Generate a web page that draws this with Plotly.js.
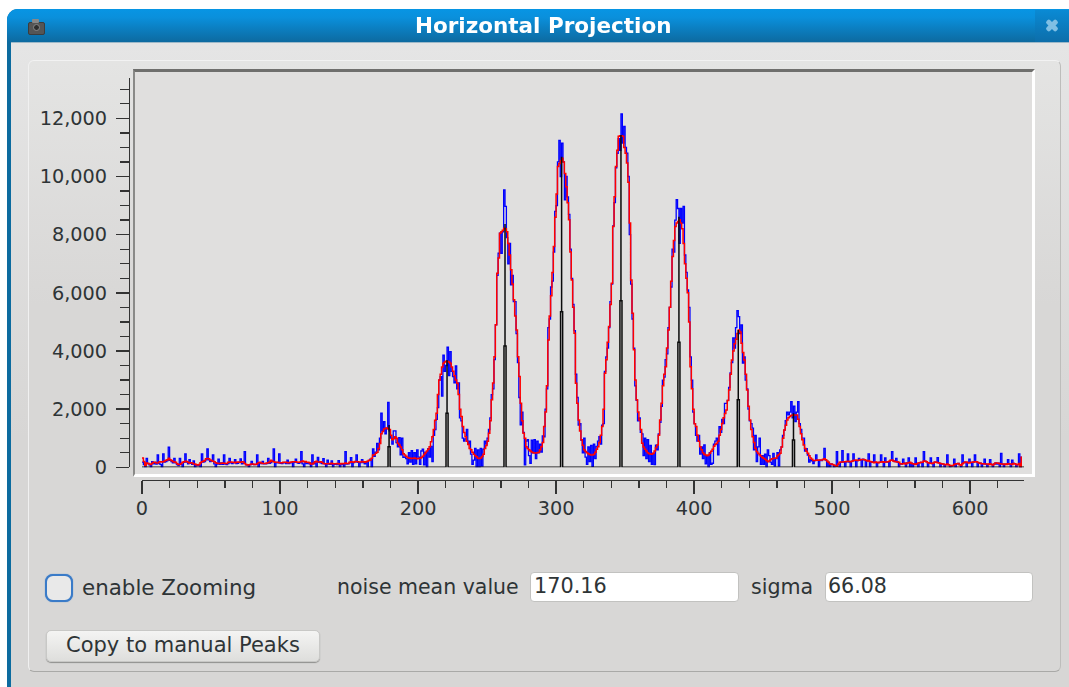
<!DOCTYPE html>
<html><head><meta charset="utf-8">
<script src="https://cdn.plot.ly/plotly-3.0.1.min.js"></script>
<style>
html,body{margin:0;padding:0;width:1069px;height:687px;overflow:hidden;background:#fff}
#root{position:absolute;left:0;top:0;width:1069px;height:687px;overflow:hidden;filter:blur(0.35px)}
.a{position:absolute;box-sizing:border-box}
#win{left:7px;top:9px;width:1080px;height:700px;background:#0c6b9f;border-radius:11px 11px 0 0}
#bar{left:7px;top:9px;width:1080px;height:33px;border-radius:11px 11px 0 0;background:linear-gradient(#0795e4,#0a90dc 25%,#0d6aa0)}
#body{left:11px;top:42px;width:1070px;height:660px;background:linear-gradient(#e5e5e5,#d7d6d5 60%);border-top:1px solid #9db9c9}
#panel{left:28px;top:60px;width:1033px;height:612px;border-radius:6px;background:linear-gradient(#e4e4e3,#d8d7d6 40%);border:1px solid #c4c4c2;border-top-color:#f2f2f2;border-left-color:#f0f0f0;border-right-color:#bdbdbb;border-bottom-color:#a9a9a7}
#canvas{left:133px;top:69px;width:902px;height:408px;background:#e0dfde;border-style:solid;border-width:3px 3px 3px 2px;border-color:#6f6f6d #fff #fff #8a8a88}
.inp{background:#fff;border:1px solid #c2c2c0;border-radius:4px;top:572px;height:30px}
#i1{left:530px;width:209px}#i2{left:825px;width:208px}
#cb{left:45px;top:574px;width:28px;height:28px;border-radius:8px;border:2px solid #3a7bc8;background:#e9e9e9;box-shadow:0 0 1px #3a7bc8}
#btn{left:46px;top:630px;width:274px;height:32px;border-radius:5px;background:linear-gradient(#f4f4f3,#dededc);border:1px solid #c8c8c6;box-shadow:0 1px 1px #8f8f8d}
#cam{left:28px;top:22px;width:17px;height:13px;background:#555;border-radius:2px;border:1px solid #3c3c3c}
#cam2{left:32px;top:19px;width:7px;height:4px;background:#888;border-radius:1px}
#cam3{left:33px;top:24px;width:7px;height:7px;background:#2e2e2e;border-radius:50%;border:1px solid #888}
#cls{left:1035px;top:10px;width:40px;height:32px;background:linear-gradient(#0a8ad4,#0d6eaa)}
.x1{left:1045px;top:23px;width:14px;height:5px;background:#7fbfe4;border-radius:2px}
#x1{transform:rotate(45deg)}#x2{transform:rotate(-45deg)}
#plot{position:absolute;left:0;top:0;width:1069px;height:687px}
</style></head><body><div id="root">
<div class="a" id="win"></div><div class="a" id="bar"></div><div class="a" id="body"></div>
<div class="a" id="panel"></div><div class="a" id="canvas"></div>
<div class="a inp" id="i1"></div><div class="a inp" id="i2"></div><div class="a" id="cb"></div><div class="a" id="btn"></div>
<div class="a" id="cam"></div><div class="a" id="cam2"></div><div class="a" id="cam3"></div>
<div class="a" id="cls"></div><div class="a x1" id="x1"></div><div class="a x1" id="x2"></div>
<div id="plot"></div></div>
<script>
const rawProjection = [
180,90,-80,310,130,80,-115,190,120,170,110,425,130,100,-110,460,180,200,230,690,
240,200,150,310,150,90,60,310,100,-60,170,460,180,120,260,140,100,220,-40,90,
60,80,-60,460,180,200,260,630,260,200,210,425,120,-40,110,280,100,150,100,425,
110,90,130,310,150,130,160,260,130,140,170,290,120,140,540,80,90,-70,90,200,
100,90,100,425,-50,140,130,200,120,120,130,310,140,160,210,630,-40,170,150,460,
140,130,150,170,130,250,130,150,170,-30,170,280,160,140,150,540,120,-40,170,130,
150,120,-60,425,120,150,-90,340,170,150,130,300,120,-50,250,110,100,220,-60,100,
110,90,230,-40,110,90,-70,540,110,120,150,330,-20,160,190,425,170,-30,160,260,
160,120,190,-20,230,280,-20,630,380,520,825,600,1000,1860,1250,1570,1150,1350,2230,1250,
1000,800,1250,1250,850,700,1020,430,1000,340,360,300,120,500,180,570,100,500,120,600,
350,100,560,620,80,520,-110,640,350,720,200,1100,1300,1650,2050,3000,3120,2450,3860,3300,
3500,4130,3150,3980,3300,3120,2900,3490,2700,2900,1700,1600,1000,900,980,1300,800,900,450,100,
250,650,-30,600,-20,650,40,620,900,800,1000,1300,1700,2500,2700,3700,4900,6600,7360,8050,
7360,8100,9540,8970,7900,7000,7700,6270,6600,5700,5700,4600,3600,2400,1460,1900,1200,80,900,950,
400,140,930,500,950,300,900,500,800,520,1080,1050,2000,2700,4800,5100,6200,6400,7400,8800,
9000,10500,11240,10000,11150,10500,9200,10000,9300,8700,7500,6500,5600,4700,3200,2400,1450,1500,930,500,
1000,350,100,700,200,750,30,800,300,720,900,1050,800,1450,1500,3300,3800,4100,4800,5700,
6300,8300,9100,10300,10800,11300,10900,12150,11150,11720,11000,10800,10000,8000,6300,5100,4100,2800,2300,1600,
1700,1200,1150,400,1000,300,950,200,750,100,480,90,760,600,1150,1550,2100,3000,3100,3700,
3900,4800,5500,6200,7500,7400,8500,9200,8900,7700,8900,8400,8970,7300,6700,6100,5500,3800,3000,1900,
1500,1100,900,1100,450,700,300,770,120,400,-30,500,100,140,800,900,1000,430,1400,1200,
1650,1500,2200,2200,2300,2750,3250,3600,4450,4100,4800,5390,5180,4600,4900,3580,3800,3000,2700,2000,
1600,1500,1350,600,1100,200,700,1000,100,400,100,450,-10,600,400,180,100,480,40,300,
500,40,600,700,1100,1280,1600,1900,1800,1900,2260,1700,2100,1570,1900,2260,1500,1300,1000,1000,
560,640,420,180,260,220,130,230,430,240,-90,250,230,270,650,250,-60,170,-40,120,
90,-90,50,540,100,-50,170,570,180,-100,190,460,180,-100,210,460,230,-60,230,310,
250,-60,280,260,-40,220,460,-40,190,170,425,170,-30,160,170,425,190,-30,320,180,
190,-40,240,540,220,200,310,180,-50,120,110,280,140,-70,150,320,-60,140,-40,110,
320,120,-60,160,170,-40,540,210,190,-40,150,320,130,-50,180,170,330,150,-60,120,
110,-60,90,425,90,-40,50,60,280,-60,120,130,90,-30,425,160,180,-40,160,280,
170,-30,180,425,190,-30,150,140,-40,120,280,110,-50,100,260,100,-60,110,150,110,
140,-60,480,110,-60,110,100,260,110,-40,250,130,120,-60,90,460,-90,370];

const smoothedProjection = [
320,200,60,150,130,110,100,140,170,170,150,150,180,190,180,190,220,240,260,310,
260,230,200,180,170,120,100,100,130,170,190,210,200,170,150,160,150,110,110,90,
80,100,160,190,210,230,290,300,290,250,230,210,190,160,140,130,130,140,150,140,
130,130,170,180,180,170,170,160,170,180,170,170,190,180,130,100,80,90,100,110,
110,100,100,120,160,170,150,130,130,130,150,160,180,240,210,190,170,170,170,160,
160,160,170,170,170,160,160,170,180,190,190,190,170,170,180,200,220,190,200,170,
170,160,110,110,150,190,210,180,180,190,170,130,120,120,120,130,120,140,120,120,
120,130,120,110,130,120,130,150,130,130,170,190,180,170,200,200,190,180,180,200,
190,170,190,210,240,250,310,420,430,480,520,650,820,1150,1230,1320,1340,1350,1320,1300,
1100,950,980,1050,1000,830,770,700,600,470,420,380,340,320,310,300,310,320,300,290,
300,310,340,380,440,500,560,620,710,880,1050,1300,1620,1860,2500,3000,3200,3450,3580,3620,
3650,3640,3620,3580,3450,3300,3150,3000,2890,2500,2000,1750,1400,1200,1050,900,780,650,600,520,
450,400,360,310,300,320,370,450,650,750,900,1170,1600,2320,2900,3800,4900,6670,7200,8050,
8100,8150,8220,8200,8100,7700,7300,6790,6300,5760,5200,4720,3800,3120,2200,1600,1170,1000,710,650,
600,560,530,500,490,490,500,520,600,710,850,1400,1900,2800,4380,5200,5900,6700,7590,8600,
9400,10340,10450,10550,10630,10500,10100,9650,9100,8510,7400,6440,5500,4610,2890,2200,1630,1250,950,760,
600,540,500,470,440,420,420,450,520,620,710,850,1100,1400,2000,3230,3700,4300,4840,5600,
6330,8280,9300,10340,10900,11380,11400,11400,11380,11000,10800,10460,9800,8400,6440,5300,4040,3000,2320,1900,
1630,1300,830,700,620,560,500,470,460,450,480,560,680,770,1100,1630,2200,2800,3200,3460,
4100,4720,5500,6400,7250,7800,8280,8400,8450,8510,8400,8200,7700,7000,6500,6000,5000,3460,2700,2000,
1500,1400,1100,900,710,600,500,450,420,400,420,480,550,620,720,780,830,900,1100,1300,
1510,1700,1850,1970,2300,2660,3200,3690,4000,4250,4400,4600,4720,4650,4270,3950,3690,3200,2660,2100,
1630,1300,1050,850,650,540,480,430,380,340,310,280,230,195,220,260,290,300,310,320,
400,440,480,700,1000,1280,1450,1630,1700,1750,1780,1800,1800,1800,1800,1650,1400,1150,950,770,
650,550,480,400,320,280,230,230,240,250,240,250,250,270,290,260,220,170,115,110,
100,80,50,40,110,170,180,180,190,190,200,210,200,190,210,230,240,250,230,240,
260,270,270,260,240,220,230,200,190,170,160,180,170,160,170,180,190,170,180,180,
190,210,240,250,220,200,190,180,170,120,110,120,140,110,150,160,170,140,120,110,
100,120,150,160,170,170,220,210,190,160,150,140,130,150,180,170,160,150,130,120,
110,100,90,110,90,60,50,60,100,110,120,130,90,70,120,160,180,180,160,150,
170,170,180,190,190,170,150,140,120,120,110,110,110,100,120,100,80,110,150,150,
140,120,110,110,100,110,100,120,110,110,100,130,120,100,90,130,-90,370];

const peakX = [179,221,263,304,347,389,432,472];
const peakTop = [1455,3690,8370,10680,11430,8620,4720,1860];
const peakShoulder = [710,1857,4170,5350,5730,4300,2320,940];
const xTickValues = [0,100,200,300,400,500,600];
const noiseMean = "170.16";
const noiseSigma = "66.08";

const W = 1069, H = 687;
const px = v => v / W, py = v => 1 - v / H;
const idx = rawProjection.map((_, i) => i);
const hw = 0.75;
const bx = [0], by = [0];
peakX.forEach((p, i) => {
  const s = peakShoulder[i], t = peakTop[i];
  bx.push(p-hw,p-hw,p,p,p,p+hw,p+hw);
  by.push(0,s,s,t,s,s,0);
});
bx.push(639); by.push(0);

const traces = [
 {x: idx, y: rawProjection, mode:'lines', line:{color:'#0000ff',width:1.3,shape:'hv'}, cliponaxis:false, name:'projection'},
 {x: idx, y: smoothedProjection, mode:'lines', line:{color:'#ff0000',width:1.5,shape:'hv'}, cliponaxis:false, name:'smoothed'},
 {x: bx, y: by, mode:'lines', line:{color:'#0a0a0a',width:1.5}, cliponaxis:false, name:'peaks'}
];
const tc = '#333333';
const txt = (t,x,y,size,anchor,extra) => Object.assign({text:t,xref:'paper',yref:'paper',x:px(x),y:py(y),xanchor:anchor,yanchor:'middle',showarrow:false,
  font:{family:'DejaVu Sans',size:size,color:'#2e3436'}},extra||{});
const layout = {
 width:W,height:H,margin:{l:0,r:0,t:0,b:0,pad:0},paper_bgcolor:'rgba(0,0,0,0)',plot_bgcolor:'rgba(0,0,0,0)',
 showlegend:false,hovermode:false,dragmode:false,
 xaxis:{domain:[px(142),px(1024)],range:[0,639],anchor:'free',position:py(480),side:'bottom',
   showgrid:false,zeroline:false,showline:true,linecolor:tc,linewidth:1.4,
   tickmode:'array',tickvals:xTickValues,ticks:'outside',ticklen:13,tickwidth:1.4,tickcolor:tc,ticklabelstandoff:-3,
   minor:{dtick:20,ticks:'outside',ticklen:7,tickwidth:1.4,tickcolor:tc,showgrid:false},
   tickfont:{family:'DejaVu Sans',size:19.3,color:'#2e3436'},automargin:false},
 yaxis:{domain:[py(467.3),py(78)],range:[0,13387],anchor:'free',position:px(128.5),side:'left',
   showgrid:false,zeroline:false,showline:true,linecolor:tc,linewidth:1.4,
   dtick:2000,tick0:0,tickformat:',d',ticks:'outside',ticklen:12.5,tickwidth:1.4,tickcolor:tc,ticklabelstandoff:5,
   minor:{dtick:500,ticks:'outside',ticklen:9,tickwidth:1.4,tickcolor:tc,showgrid:false},
   tickfont:{family:'DejaVu Sans',size:19.3,color:'#2e3436'},automargin:false},
 annotations:[
  txt('<b>Horizontal Projection</b>',543.5,25,21.5,'center',{font:{family:'DejaVu Sans',size:21.5,color:'#ffffff'}}),
  txt('enable Zooming',80,587,21.4,'left'),
  txt('noise mean value',335,587,20.5,'left'),
  txt(noiseMean,532,586,20.8,'left'),
  txt('sigma',749,587,20.6,'left'),
  txt(noiseSigma,826,586,20.6,'left'),
  txt('Copy to manual Peaks',183,645,21,'center')
 ]
};
Plotly.newPlot('plot',traces,layout,{displayModeBar:false,staticPlot:true});
</script></body></html>
